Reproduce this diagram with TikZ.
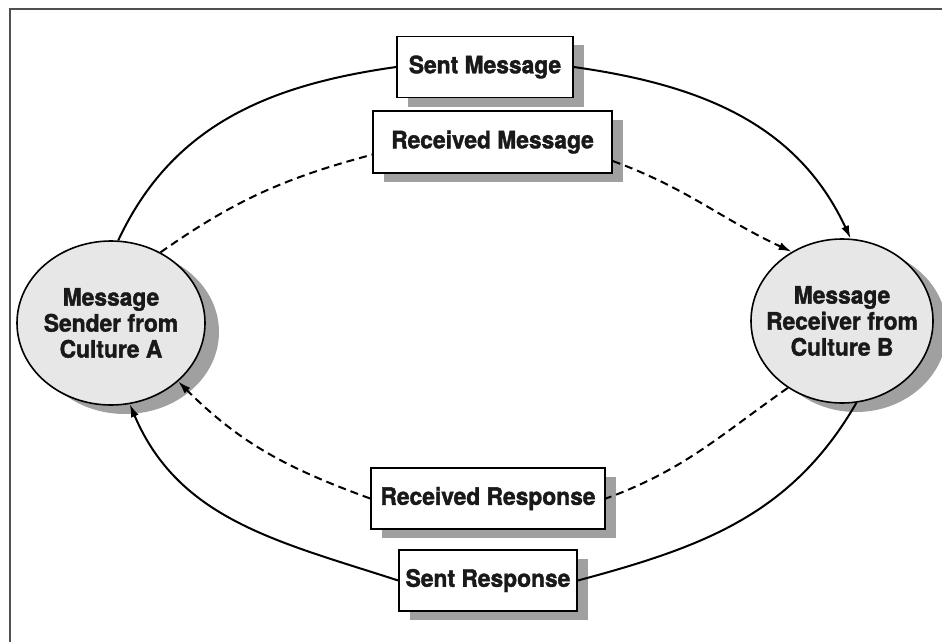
\documentclass[tikz,border=0pt]{standalone}
\usepackage{fontspec}
\setmainfont{TeX Gyre Heros}[BoldFeatures = {FakeBold = 1.6, FakeStretch = 0.95}]
\usepackage{tikz}
\usetikzlibrary{arrows.meta}
\usetikzlibrary{positioning}
\usetikzlibrary{shapes.geometric}
\usetikzlibrary{shadows}
\definecolor{shadowgray}{RGB}{160, 160, 160}
\definecolor{cellgray}{RGB}{231, 231, 231}
\definecolor{framegray}{RGB}{80, 80, 80}
\tikzset{labelfont/.style = {text = black!90, font = \bfseries\fontsize{24}{26}\selectfont}}
\tikzset{msgbox/.style = {draw, fill = white, line width = 1.6, labelfont, inner xsep = 0, minimum height = 61,
    drop shadow = {shadow xshift = 11pt, shadow yshift = -9pt, fill = shadowgray, opacity = 1}}}
\tikzset{culture/.style = {draw, ellipse, fill = cellgray, line width = 1.6, inner sep = 0,
    drop shadow = {shadow xshift = 14pt, shadow yshift = -9pt, fill = shadowgray, opacity = 1}}}
\tikzset{culturetext/.style = {labelfont, align = center, inner sep = 0}}
\tikzset{flowline/.style = {line width = 2}}
\tikzset{flow/.style = {flowline, -{Latex[length = 13pt, width = 8pt]}}}
\tikzset{dashline/.style = {flowline, dash pattern = on 8pt off 5pt}}
\tikzset{dashflow/.style = {flow, dash pattern = on 8pt off 5pt}}

\begin{document}
\begin{tikzpicture}[x = 1pt, y = 1pt]
      \useasboundingbox (0, 0) rectangle (942, -642);
      \draw [framegray, line width = 2] (10, -642) -- (10, -9) -- (942, -9);

      % the two cultures
      \node [culture, minimum width = 188, minimum height = 164] (sender) at (111, -323) {};
      \node [culturetext] (sendertext) at (sender) {Message\\Sender from\\Culture A};
      \node [culture, minimum width = 182, minimum height = 164] (receiver) at (842, -321) {};
      \node [culturetext] (receivertext) at (receiver) {Message\\Receiver from\\Culture B};

      % messages and responses
      \node [msgbox, minimum width = 176] (sentmsg) at (485, -67) {Sent Message};
      \node [msgbox, minimum width = 239, minimum height = 62] (recmsg) at (492.5, -142) {Received Message};
      \node [msgbox, minimum width = 234] (recresp) at (488, -498.5) {Received Response};
      \node [msgbox, minimum width = 178] (sentresp) at (488, -580.5) {Sent Response};

      \draw [flowline] (sender.85) to [out = 65, in = 188] (sentmsg.west);
      \draw [flow] (sentmsg.east) to [out = -8, in = 115] (receiver.84);
      \draw [dashline] (sender.55) to [out = 35, in = 195] (recmsg.186);
      \draw [dashflow] (recmsg.-9) to [out = -20, in = 155] (receiver.126);

      \draw [dashline] (receiver.231) to [out = 215, in = 20] (recresp.east);
      \draw [dashflow] (recresp.west) to [out = 160, in = -45] (sender.319);
      \draw [flowline] (receiver.280) to [out = 240, in = 15] (sentresp.east);
      \draw [flow] (sentresp.west) to [out = 162, in = -67] (sender.283);
    \end{tikzpicture}
\end{document}
